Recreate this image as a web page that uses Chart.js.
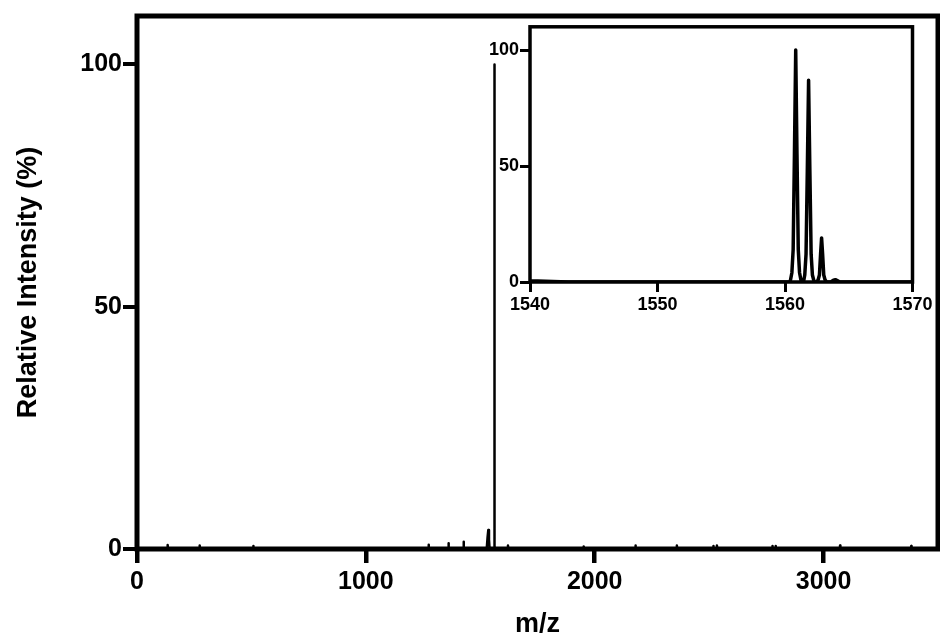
<!DOCTYPE html>
<html>
<head>
<meta charset="utf-8">
<script src="https://cdn.jsdelivr.net/npm/chart.js@4.4.1/dist/chart.umd.min.js"></script>
<style>
  html, body { margin: 0; padding: 0; background: #fff; }
  #wrap { position: relative; width: 940px; height: 641px; }
  #main { position: absolute; left: 0; top: 0; width: 940px; height: 641px; }
  #inset { position: absolute; left: 470px; top: 15px; width: 470px; height: 305px; }
</style>
</head>
<body>
<div id="wrap">
  <canvas id="main" width="940" height="641"></canvas>
  <canvas id="inset" width="470" height="305"></canvas>
</div>
<script>
// Full-scan baseline features (m/z, relative intensity %)
const scanMz = [0, 133, 134, 135.5, 273, 274, 275.5, 507, 508, 509.5,
  1273, 1274, 1275.5, 1360, 1361, 1362.5, 1426, 1427, 1428.5,
  1528, 1532, 1535, 1538, 1540, 1543,
  1620, 1621, 1622.5, 1951, 1952, 1953.5, 2177, 2178, 2179.5,
  2358, 2359, 2360.5, 2517, 2518, 2520, 2533, 2534, 2536,
  2775, 2776, 2778, 2788, 2790, 2792, 3071, 3072, 3073.5,
  3382, 3383, 3384.5, 3500];
const scanIntensity = [0, 0, 0.8, 0, 0, 0.7, 0, 0, 0.6, 0,
  0, 0.9, 0, 0, 1.2, 0, 0, 1.5, 0,
  0, 2.5, 3.9, 2.0, 0.5, 0,
  0, 0.7, 0, 0, 0.5, 0, 0, 0.7, 0,
  0, 0.7, 0, 0, 0.6, 0, 0, 0.7, 0,
  0, 0.6, 0, 0, 0.6, 0, 0, 0.7, 0,
  0, 0.6, 0, 0];

// Isotope cluster of the molecular ion
const clusterMz = [1560.4, 1560.54, 1560.64, 1560.74, 1560.84, 1560.94, 1561.04, 1561.14, 1561.28,
  1561.45, 1561.55, 1561.65, 1561.75, 1561.85, 1561.95, 1562.05, 1562.15, 1562.29,
  1562.5, 1562.6, 1562.7, 1562.79, 1562.87, 1562.95, 1563.04, 1563.14, 1563.25,
  1563.6, 1563.8, 1563.95, 1564.1, 1564.3];
const clusterIntensity = [0, 4, 14, 55, 100, 55, 14, 4, 0,
  0, 3, 12, 48, 87, 48, 12, 3, 0,
  0, 1, 3, 12, 19, 12, 3, 1, 0,
  0, 0.8, 1.0, 0.6, 0];

// Axis ticks
const mainXTicks = [0, 1000, 2000, 3000];
const mainXTickLabels = ['0', '1000', '2000', '3000'];
const mainYTicks = [0, 50, 100];
const insetXTicks = [1540, 1550, 1560, 1570];
const insetXTickLabels = ['1540', '1550', '1560', '1570'];
const insetYTicks = [0, 50, 100];

const spectrum = scanMz.map((x, i) => ({ x, y: scanIntensity[i] }))
  .concat(clusterMz.map((x, i) => ({ x, y: clusterIntensity[i] })))
  .sort((a, b) => a.x - b.x);

const FONT = '"Liberation Sans", Arial, Helvetica, sans-serif';

// Closed box drawn around the plot area
const framePlugin = {
  id: 'frame',
  afterDatasetsDraw(chart, args, opts) {
    const { ctx, chartArea: a } = chart;
    ctx.save();
    ctx.strokeStyle = '#000';
    ctx.lineWidth = opts.width || 4;
    ctx.lineJoin = 'miter';
    ctx.strokeRect(a.left, a.top, a.right - a.left, a.bottom - a.top);
    ctx.restore();
  }
};

function axisGrid(tickLen, tickWidth) {
  return {
    display: true,
    drawOnChartArea: false,
    drawTicks: true,
    tickLength: tickLen,
    tickWidth: tickWidth,
    lineWidth: tickWidth,
    color: '#000',
    tickColor: '#000'
  };
}

Chart.defaults.font.family = FONT;
Chart.defaults.color = '#000';

new Chart(document.getElementById('main'), {
  type: 'line',
  data: {
    datasets: [{
      data: spectrum,
      borderColor: '#000',
      borderWidth: 2.5,
      borderJoinStyle: 'round',
      pointRadius: 0,
      tension: 0,
      fill: false
    }]
  },
  options: {
    responsive: false,
    animation: false,
    devicePixelRatio: 1,
    layout: { padding: { top: 13.5, right: 2, left: 0, bottom: 0 } },
    plugins: { legend: { display: false }, tooltip: { enabled: false }, frame: { width: 5 } },
    scales: {
      x: {
        type: 'linear',
        min: 0,
        max: 3500,
        grid: axisGrid(14, 4.5),
        border: { display: false },
        afterBuildTicks: s => { s.ticks = mainXTicks.map(v => ({ value: v })); },
        afterFit: s => { s.height = 92; },
        ticks: {
          autoSkip: false,
          maxRotation: 0,
          padding: 4,
          font: { size: 25, weight: 'bold' },
          callback: (v, i) => mainXTickLabels[i]
        },
        title: {
          display: true,
          text: 'm/z',
          font: { size: 27, weight: 'bold' },
          padding: { top: 0, bottom: 0 }
        }
      },
      y: {
        type: 'linear',
        min: 0,
        max: 110,
        grid: axisGrid(14, 4),
        border: { display: false },
        afterBuildTicks: s => { s.ticks = mainYTicks.map(v => ({ value: v })); },
        afterFit: s => { s.width = 137; },
        ticks: {
          autoSkip: false,
          padding: 1,
          font: { size: 25, weight: 'bold' },
          callback: v => String(v)
        },
        title: {
          display: true,
          text: 'Relative Intensity (%)',
          font: { size: 27, weight: 'bold' },
          padding: { top: 12, bottom: 0 }
        }
      }
    }
  },
  plugins: [framePlugin]
});

new Chart(document.getElementById('inset'), {
  type: 'line',
  data: {
    datasets: [{
      data: spectrum,
      borderColor: '#000',
      borderWidth: 3.5,
      borderJoinStyle: 'round',
      pointRadius: 0,
      tension: 0,
      fill: false
    }]
  },
  options: {
    responsive: false,
    animation: false,
    devicePixelRatio: 1,
    layout: { padding: { top: 10, right: 27.5, left: 0, bottom: 0 } },
    plugins: { legend: { display: false }, tooltip: { enabled: false }, frame: { width: 3.5 } },
    scales: {
      x: {
        type: 'linear',
        min: 1540,
        max: 1570,
        grid: axisGrid(10, 3),
        border: { display: false },
        afterBuildTicks: s => { s.ticks = insetXTicks.map(v => ({ value: v })); },
        afterFit: s => { s.height = 38; },
        ticks: {
          autoSkip: false,
          maxRotation: 0,
          padding: 2,
          font: { size: 18, weight: 'bold' },
          callback: (v, i) => insetXTickLabels[i]
        }
      },
      y: {
        type: 'linear',
        min: 0,
        max: 110,
        grid: axisGrid(10, 3),
        border: { display: false },
        afterBuildTicks: s => { s.ticks = insetYTicks.map(v => ({ value: v })); },
        afterFit: s => { s.width = 60; },
        ticks: {
          autoSkip: false,
          padding: 1,
          font: { size: 18, weight: 'bold' },
          callback: v => String(v)
        }
      }
    }
  },
  plugins: [framePlugin]
});
</script>
</body>
</html>
